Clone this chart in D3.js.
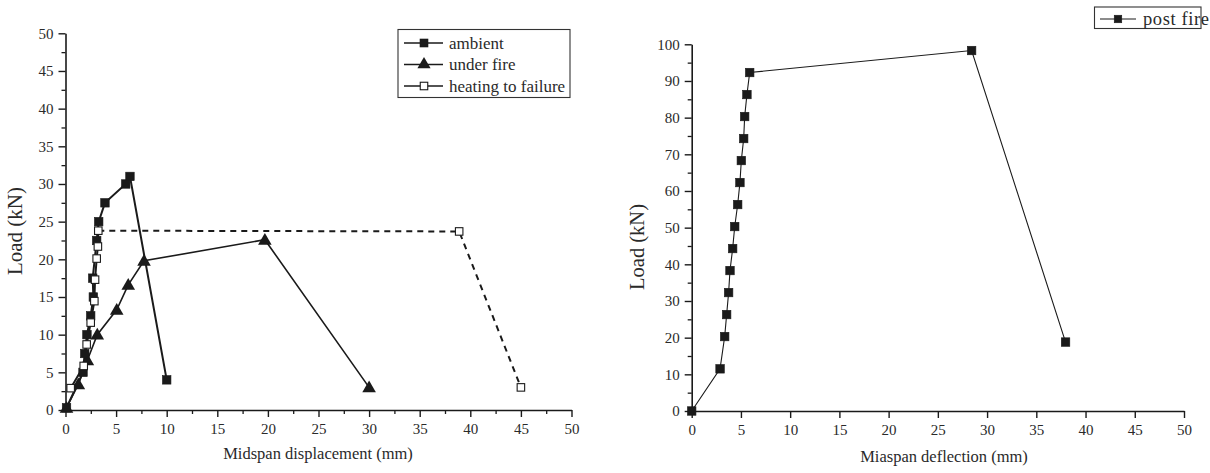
<!DOCTYPE html>
<html>
<head>
<meta charset="utf-8">
<script src="https://cdn.jsdelivr.net/npm/d3@7"></script>
<style>
  html, body { margin: 0; padding: 0; background: #fff; }
  svg text { font-family: "Liberation Serif", "Times New Roman", serif; fill: #2a2a2a; }
</style>
</head>
<body>
<svg id="chart" width="1210" height="473"></svg>
<script>
// Left panel: load vs midspan displacement for three test conditions
const ambientX = [0.1, 1.73, 1.9, 2.12, 2.49, 2.75, 2.69, 3.08, 3.28, 3.9, 5.95, 6.37, 10.0];
const ambientY = [0.3, 5.0, 7.5, 10.0, 12.5, 15.0, 17.5, 22.5, 25.0, 27.5, 30.0, 31.0, 4.0];

const fireX = [0.1, 1.27, 2.16, 3.14, 5.06, 6.2, 7.76, 19.7, 30.0];
const fireY = [0.3, 3.4, 6.6, 10.0, 13.3, 16.6, 19.8, 22.6, 3.0];

const heatX = [0.51, 1.8, 2.09, 2.49, 2.85, 2.92, 3.08, 3.2, 3.24, 38.9, 45.0];
const heatY = [2.9, 5.85, 8.7, 11.6, 14.45, 17.3, 20.1, 21.7, 23.8, 23.7, 3.0];
// index from which the heating-to-failure curve is drawn dashed
const heatDashFrom = 8;

// Right panel: post-fire load vs midspan deflection
const postX = [0, 2.88, 3.35, 3.55, 3.75, 3.89, 4.16, 4.37, 4.67, 4.9, 5.04, 5.28, 5.38, 5.61, 5.89, 28.43, 37.97];
const postY = [0, 11.5, 20.3, 26.3, 32.3, 38.3, 44.3, 50.3, 56.3, 62.3, 68.3, 74.3, 80.3, 86.3, 92.3, 98.3, 18.8];

const leftXTicks = [0, 5, 10, 15, 20, 25, 30, 35, 40, 45, 50];
const leftYTicks = [0, 5, 10, 15, 20, 25, 30, 35, 40, 45, 50];
const rightXTicks = [0, 5, 10, 15, 20, 25, 30, 35, 40, 45, 50];
const rightYTicks = [0, 10, 20, 30, 40, 50, 60, 70, 80, 90, 100];

const leftLegend = ["ambient", "under fire", "heating to failure"];
const rightLegend = ["post fire"];

const svg = d3.select("#chart");
svg.append("rect").attr("width", 1210).attr("height", 473).attr("fill", "#fff");

const ink = "#1a1a1a";
const zip = (xs, ys) => xs.map((x, i) => ({ x, y: ys[i] }));

function drawAxes(g, x, y, xTicks, yTicks, xMinorStep, yMinorStep, xLabel, yLabel, yLabelPos, xLabelPos) {
  const [x0, x1] = x.domain();
  const [y0, y1] = y.domain();
  const xMinor = d3.range(x0, x1 + 1e-9, xMinorStep).filter(v => !xTicks.includes(v));
  const yMinor = d3.range(y0, y1 + 1e-9, yMinorStep).filter(v => !yTicks.includes(v));

  const yBase = y(y0), xBase = x(x0);

  // minor ticks
  g.append("g").attr("transform", `translate(0,${yBase})`)
    .call(d3.axisBottom(x).tickValues(xMinor).tickSize(4).tickFormat(""))
    .call(a => a.select(".domain").remove())
    .selectAll("line").attr("stroke", ink).attr("stroke-width", 1.3);
  g.append("g").attr("transform", `translate(${xBase},0)`)
    .call(d3.axisLeft(y).tickValues(yMinor).tickSize(4).tickFormat(""))
    .call(a => a.select(".domain").remove())
    .selectAll("line").attr("stroke", ink).attr("stroke-width", 1.3);

  // major ticks and labels
  const xa = g.append("g").attr("transform", `translate(0,${yBase})`)
    .call(d3.axisBottom(x).tickValues(xTicks).tickSize(7).tickSizeOuter(0).tickPadding(6).tickFormat(d3.format("d")));
  xa.select(".domain").attr("stroke", ink).attr("stroke-width", 1.6);
  xa.selectAll("line").attr("stroke", ink).attr("stroke-width", 1.4);
  xa.selectAll("text").attr("font-size", 15).attr("fill", "#333")
    .style("font-family", "'Liberation Serif', serif");

  const ya = g.append("g").attr("transform", `translate(${xBase},0)`)
    .call(d3.axisLeft(y).tickValues(yTicks).tickSize(7).tickSizeOuter(0).tickPadding(5).tickFormat(d3.format("d")));
  ya.select(".domain").attr("stroke", ink).attr("stroke-width", 1.6);
  ya.selectAll("line").attr("stroke", ink).attr("stroke-width", 1.4);
  ya.selectAll("text").attr("font-size", 15).attr("fill", "#333")
    .style("font-family", "'Liberation Serif', serif");

  g.append("text").attr("x", xLabelPos[0]).attr("y", xLabelPos[1])
    .attr("text-anchor", "middle").attr("font-size", xLabelPos[2]).text(xLabel);
  g.append("text").attr("transform", `translate(${yLabelPos[0]},${yLabelPos[1]}) rotate(-90)`)
    .attr("text-anchor", "middle").attr("font-size", yLabelPos[2]).text(yLabel);
}

function squareMarkers(g, pts, x, y, size, fill) {
  g.selectAll(null).data(pts).enter().append("rect")
    .attr("x", d => x(d.x) - size / 2).attr("y", d => y(d.y) - size / 2)
    .attr("width", size).attr("height", size)
    .attr("fill", fill).attr("stroke", ink).attr("stroke-width", fill === "#fff" ? 1.1 : 0.6);
}

function triangleMarkers(g, pts, x, y, size) {
  const sym = d3.symbol().type(d3.symbolTriangle).size(size);
  g.selectAll(null).data(pts).enter().append("path")
    .attr("d", sym).attr("transform", d => `translate(${x(d.x)},${y(d.y) + 1})`)
    .attr("fill", ink);
}

// ---------- left panel ----------
const xL = d3.scaleLinear().domain([0, 50]).range([65.5, 571.5]);
const yL = d3.scaleLinear().domain([0, 50]).range([410, 33.3]);
const gL = svg.append("g");

drawAxes(gL, xL, yL, leftXTicks, leftYTicks, 2.5, 2.5,
  "Midspan displacement (mm)", "Load (kN)", [22, 231, 21], [318, 459, 16.5]);

const lineL = d3.line().x(d => xL(d.x)).y(d => yL(d.y));

const ambientPts = zip(ambientX, ambientY);
const firePts = zip(fireX, fireY);
const heatPts = zip(heatX, heatY);

gL.append("path").attr("d", lineL(heatPts.slice(0, heatDashFrom + 1)))
  .attr("fill", "none").attr("stroke", ink).attr("stroke-width", 2);
gL.append("path").attr("d", lineL(heatPts.slice(heatDashFrom)))
  .attr("fill", "none").attr("stroke", ink).attr("stroke-width", 2).attr("stroke-dasharray", "6,5");
gL.append("path").attr("d", lineL(firePts))
  .attr("fill", "none").attr("stroke", ink).attr("stroke-width", 1.6);
gL.append("path").attr("d", lineL(ambientPts))
  .attr("fill", "none").attr("stroke", ink).attr("stroke-width", 2);

triangleMarkers(gL, firePts, xL, yL, 80);
squareMarkers(gL, ambientPts, xL, yL, 8.5, ink);
squareMarkers(gL, heatPts, xL, yL, 7.5, "#fff");

// legend
const legL = gL.append("g");
legL.append("rect").attr("x", 398).attr("y", 29.5).attr("width", 172).attr("height", 68)
  .attr("fill", "#fff").attr("stroke", "#333").attr("stroke-width", 1.1);
leftLegend.forEach((name, i) => {
  const cy = 43 + i * 21.5;
  legL.append("line").attr("x1", 404).attr("x2", 443).attr("y1", cy).attr("y2", cy)
    .attr("stroke", ink).attr("stroke-width", 1.6);
  if (i === 0) squareMarkers(legL, [{ x: 424, y: cy }], d => d, d => d, 8, ink);
  if (i === 1) triangleMarkers(legL, [{ x: 424, y: cy - 1 }], d => d, d => d, 75);
  if (i === 2) squareMarkers(legL, [{ x: 424, y: cy }], d => d, d => d, 7.5, "#fff");
  legL.append("text").attr("x", 449).attr("y", cy + 5.5).attr("font-size", 17).text(name);
});

// ---------- right panel ----------
const xR = d3.scaleLinear().domain([0, 50]).range([691.7, 1184]);
const yR = d3.scaleLinear().domain([0, 100]).range([411, 44.3]);
const gR = svg.append("g");

drawAxes(gR, xR, yR, rightXTicks, rightYTicks, 5, 5,
  "Miaspan deflection (mm)", "Load (kN)", [644, 247, 20.5], [944, 462, 16.5]);

const lineR = d3.line().x(d => xR(d.x)).y(d => yR(d.y));
const postPts = zip(postX, postY);
gR.append("path").attr("d", lineR(postPts))
  .attr("fill", "none").attr("stroke", ink).attr("stroke-width", 1.1);
squareMarkers(gR, postPts, xR, yR, 8.5, ink);

const legR = gR.append("g");
legR.append("rect").attr("x", 1094.5).attr("y", 7).attr("width", 106.5).attr("height", 21.5)
  .attr("fill", "#fff").attr("stroke", "#333").attr("stroke-width", 1.1);
legR.append("line").attr("x1", 1100).attr("x2", 1136).attr("y1", 19).attr("y2", 19)
  .attr("stroke", ink).attr("stroke-width", 1.1);
squareMarkers(legR, [{ x: 1118, y: 19 }], d => d, d => d, 7.5, ink);
legR.append("text").attr("x", 1143).attr("y", 24.5).attr("font-size", 18.5)
  .attr("letter-spacing", 0.6).text(rightLegend[0]);
</script>
</body>
</html>
